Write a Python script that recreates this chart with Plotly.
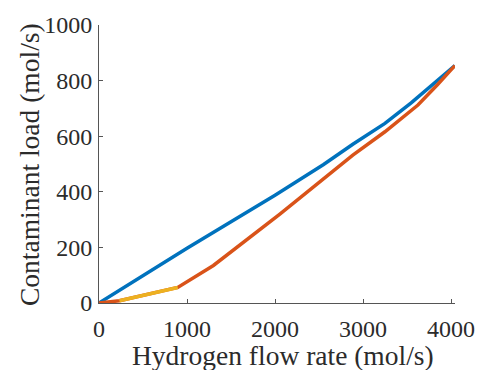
import plotly.graph_objects as go

# Data
blue_x = [0, 1000, 2000, 2552, 2884, 3105, 3249, 3547, 3845, 4044]
blue_y = [0, 197, 388, 498, 571, 616, 646, 720, 800, 854]

red_x = [0, 232, 895, 1300, 2055, 2884, 3249, 3624, 3845, 4044]
red_y = [0, 8, 56, 135, 320, 532, 616, 712, 785, 854]

yellow_x = [232, 895]
yellow_y = [8, 56]

x_ticks = [0, 1000, 2000, 3000, 4000]
y_ticks = [0, 200, 400, 600, 800, 1000]

x_title = "Hydrogen flow rate (mol/s)"
y_title = "Contaminant load (mol/s)"

FONT = "Liberation Serif"
TXT = "#2b2b2b"

fig = go.Figure()
fig.add_trace(go.Scatter(x=blue_x, y=blue_y, mode="lines",
                         line=dict(color="#0072BD", width=3.5), showlegend=False))
fig.add_trace(go.Scatter(x=red_x, y=red_y, mode="lines",
                         line=dict(color="#D95319", width=3.5), showlegend=False))
fig.add_trace(go.Scatter(x=yellow_x, y=yellow_y, mode="lines",
                         line=dict(color="#EDB120", width=3.5), showlegend=False))

axis_common = dict(
    showgrid=False, zeroline=False, showline=True, linecolor="#555555", linewidth=1,
    ticks="inside", ticklen=4, tickwidth=1, tickcolor="#555555",
    tickfont=dict(family=FONT, size=24, color=TXT),
)

fig.update_layout(
    width=487, height=370,
    margin=dict(l=99, r=22, t=22, b=67),
    paper_bgcolor="white", plot_bgcolor="white",
    xaxis=dict(range=[0, 4045], tickvals=x_ticks, ticktext=[str(v) for v in x_ticks],
               ticklabelstandoff=4, **axis_common),
    yaxis=dict(range=[0, 1000], tickvals=y_ticks, ticktext=[str(v) for v in y_ticks],
               ticklabelstandoff=1, **axis_common),
    annotations=[
        dict(text=x_title, xref="paper", yref="paper", x=0.516, y=-0.1886,
             xanchor="center", yanchor="middle", showarrow=False,
             font=dict(family=FONT, size=27.5, color=TXT)),
        dict(text=y_title, xref="paper", yref="paper", x=-0.1967, y=0.5,
             xanchor="center", yanchor="middle", textangle=-90, showarrow=False,
             font=dict(family=FONT, size=27.5, color=TXT)),
    ],
)

fig.write_html("out.html")
